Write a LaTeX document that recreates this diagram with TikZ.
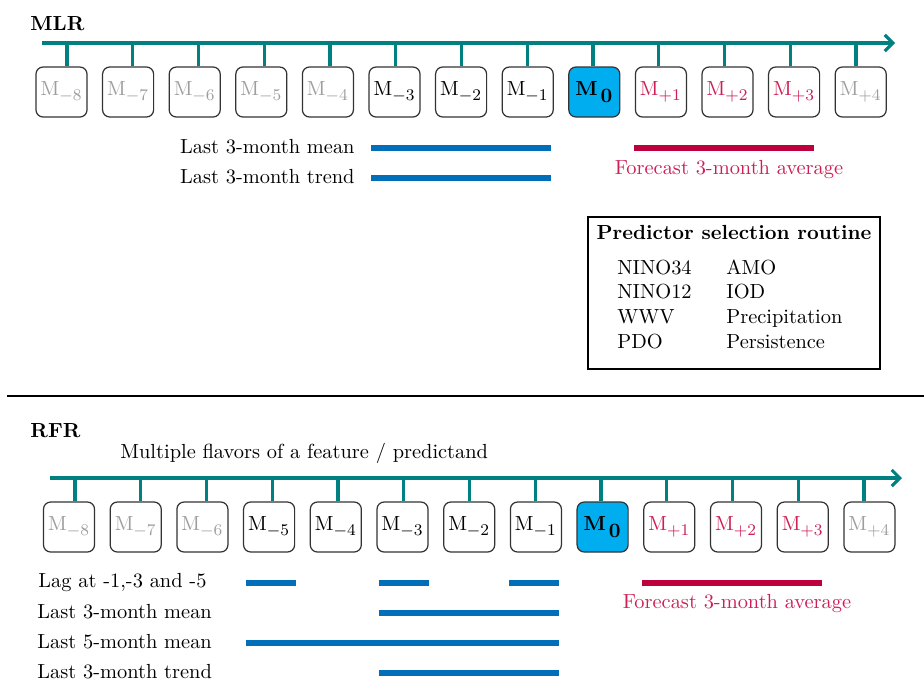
\documentclass[tikz,border=0pt]{standalone}
\usepackage{amsmath}
\usetikzlibrary{arrows.meta}

\DeclareMathSizes{10}{10}{8.5}{6}

\definecolor{timeteal}{RGB}{0,128,128}
\definecolor{featblue}{RGB}{0,110,185}
\definecolor{fcstred}{RGB}{190,0,60}
\definecolor{fcsttext}{RGB}{205,30,85}
\definecolor{nowcyan}{RGB}{0,174,239}

% month label with a slightly lowered subscript
\newcommand{\mlab}[1]{$\mathrm{M}_{\raisebox{-1.2pt}{$\scriptstyle#1$}}$}

\begin{document}
\begin{tikzpicture}[
        x=0.49pt, y=-0.49pt,
        month/.style={draw=black!80, line width=0.6pt, rounded corners=3.5pt, minimum width=25pt, minimum height=24.5pt, inner sep=0pt},
        gone/.style={month, text=black!38},
        used/.style={month, text=black},
        now/.style={month, fill=nowcyan},
        ahead/.style={month, text=fcsttext},
        timeline/.style={timeteal, line width=1.5pt},
        lbl/.style={inner sep=0pt},
        feat/.style={featblue, line width=3pt},
        fcst/.style={fcstred, line width=3pt}
    ]

    \useasboundingbox (0,0) rectangle (924,682);

    % ---------------- MLR ----------------
    \node[lbl, font=\bfseries, anchor=base west] (mlrlbl) at (30,30) {MLR};

    % time axis
    \coordinate (mlrstart) at (42,43);
    \coordinate (mlrend) at (895,43);
    \draw[timeline, -{Straight Barb[length=4pt,width=8pt]}] (mlrstart) -- (mlrend);

    % months
    \foreach \i/\k/\sty in {0/-8/gone,1/-7/gone,2/-6/gone,3/-5/gone,4/-4/gone,5/-3/used,6/-2/used,7/-1/used,9/+1/ahead,10/+2/ahead,11/+3/ahead,12/+4/gone}
        \node[\sty] (mlr\i) at (61.5+66.6*\i, 92) {\mlab{\k}};
    \node[now] (mlr8) at (61.5+66.6*8, 92) {$\mathbf{M}_{\,\raisebox{-1.2pt}{$\mathbf{0}$}}$};

    % ticks
    \foreach \i in {0,...,12} {
        \coordinate (mlrt\i) at (67+65.75*\i, 43);
        \draw[timeline] (mlrt\i) -- (mlrt\i |- mlr\i.north);
    }

    % features
    \node[lbl, anchor=base east] (mlrmean) at (355,153) {Last 3-month mean};
    \node[lbl, anchor=base east] (mlrtrend) at (355,183) {Last 3-month trend};
    \draw[feat] (371,148) -- (551,148);
    \draw[feat] (371,178) -- (551,178);

    % target
    \draw[fcst] (634,148) -- (814,148);
    \node[lbl, text=fcsttext, anchor=base] (mlrfcst) at (729,174) {Forecast 3-month average};

    % predictors
    \draw[line width=0.6pt] (588,217) rectangle (880,369);
    \node[lbl, font=\bfseries, anchor=base] (psrtitle) at (734,239) {Predictor selection routine};
    \foreach \a/\b [count=\r from 0] in {NINO34/AMO,NINO12/IOD,WWV/Precipitation,PDO/Persistence} {
        \node[lbl, anchor=base west] (psra\r) at (617, 274+24.7*\r) {\a};
        \node[lbl, anchor=base west] (psrb\r) at (726, 274+24.7*\r) {\b};
    }

    % separator
    \draw[line width=0.8pt] (7,396) -- (924,396);

    % ---------------- RFR ----------------
    \node[lbl, font=\bfseries, anchor=base west] (rfrlbl) at (30,437) {RFR};
    \node[lbl, anchor=base west] (rfrflav) at (120,458) {Multiple flavors of a feature / predictand};

    % time axis
    \coordinate (rfrstart) at (50,478);
    \coordinate (rfrend) at (902,478);
    \draw[timeline, -{Straight Barb[length=4pt,width=8pt]}] (rfrstart) -- (rfrend);

    % months
    \foreach \i/\k/\sty in {0/-8/gone,1/-7/gone,2/-6/gone,3/-5/used,4/-4/used,5/-3/used,6/-2/used,7/-1/used,9/+1/ahead,10/+2/ahead,11/+3/ahead,12/+4/gone}
        \node[\sty] (rfr\i) at (69+66.7*\i, 527) {\mlab{\k}};
    \node[now] (rfr8) at (69+66.7*8, 527) {$\mathbf{M}_{\,\raisebox{-1.2pt}{$\mathbf{0}$}}$};

    % ticks
    \foreach \i in {0,...,12} {
        \coordinate (rfrt\i) at (75+65.75*\i, 478);
        \draw[timeline] (rfrt\i) -- (rfrt\i |- rfr\i.north);
    }

    % features
    \node[lbl, anchor=base west] (rfrlag) at (38,587) {Lag at -1,-3 and -5};
    \node[lbl, anchor=base west] (rfrmean) at (37,618) {Last 3-month mean};
    \node[lbl, anchor=base west] (rfrmeanb) at (37,648) {Last 5-month mean};
    \node[lbl, anchor=base west] (rfrtrend) at (37,678) {Last 3-month trend};
    \draw[feat] (246,583) -- (296,583);
    \draw[feat] (379,583) -- (429,583);
    \draw[feat] (509,583) -- (559,583);
    \draw[feat] (379,613) -- (559,613);
    \draw[feat] (246,643) -- (559,643);
    \draw[feat] (379,673) -- (559,673);

    % target
    \draw[fcst] (642,583) -- (822,583);
    \node[lbl, text=fcsttext, anchor=base] (rfrfcst) at (737,608) {Forecast 3-month average};

\end{tikzpicture}
\end{document}
